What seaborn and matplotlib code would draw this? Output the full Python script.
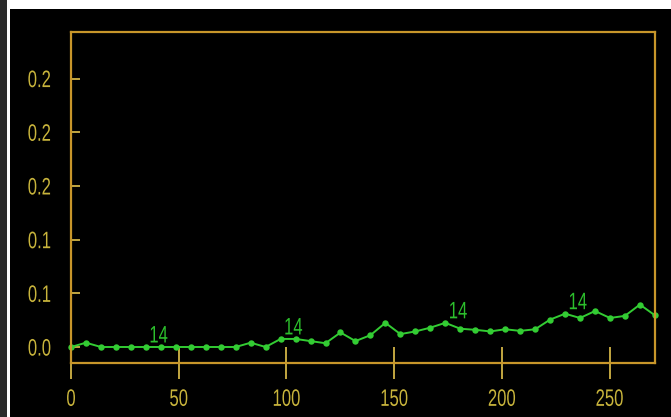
import matplotlib
matplotlib.use("Agg")
import matplotlib.pyplot as plt
from matplotlib.patches import Rectangle
from matplotlib.patheffects import AbstractPathEffect
from matplotlib.transforms import Affine2D
import seaborn as sns
import pandas as pd

# Sampled series
x_vals = [0.0, 6.95, 13.9, 20.85, 27.8, 34.75, 41.7, 48.65, 55.6, 62.55,
          69.5, 76.45, 83.4, 90.35, 97.3, 104.25, 111.2, 118.15, 125.1, 132.05,
          139.0, 145.95, 152.9, 159.85, 166.8, 173.75, 180.7, 187.65, 194.6, 201.55,
          208.5, 215.45, 222.4, 229.35, 236.3, 243.25, 250.2, 257.15, 264.1, 271.05]
y_vals = [0.000, 0.004, 0.000, 0.000, 0.000, 0.000, 0.000, 0.000, 0.000, 0.000,
          0.000, 0.000, 0.004, 0.000, 0.0075, 0.0075, 0.0055, 0.0035, 0.0135, 0.0055,
          0.011, 0.0225, 0.012, 0.0145, 0.018, 0.0225, 0.017, 0.016, 0.0145, 0.0165,
          0.015, 0.0165, 0.0255, 0.031, 0.027, 0.0335, 0.027, 0.029, 0.0395, 0.0295]

# Point annotations
label_points = [5, 14, 25, 33]
label_texts = ["14", "14", "14", "14"]

# Axis ticks
x_ticks = [0, 50, 100, 150, 200, 250]
x_tick_labels = ["0", "50", "100", "150", "200", "250"]
y_ticks = [0.0, 0.05, 0.10, 0.15, 0.20, 0.25]
y_tick_labels = ["0.0", "0.1", "0.1", "0.2", "0.2", "0.2"]

sns.set_style("dark")
plt.rcParams["font.family"] = ["Liberation Sans", "DejaVu Sans"]

SPINE = "#c8962a"
TICK = "#d2b446"
LABEL = "#c8b43c"
LINE = "#33cc33"
TEXT_GREEN = "#2cbf2c"
FONT_SIZE = 12


class TallGlyphs(AbstractPathEffect):
    """Draw text with glyphs stretched vertically about the digit mid-height."""

    def __init__(self, sy=1.43, mid=36.0):
        super().__init__()
        self.sy = sy
        self.mid = mid

    def draw_path(self, renderer, gc, tpath, affine, rgbFace=None):
        stretch = Affine2D().translate(0, -self.mid).scale(1, self.sy).translate(0, self.mid)
        renderer.draw_path(gc, tpath, stretch + affine, rgbFace)


W, H = 671, 417
fig = plt.figure(figsize=(W / 100, H / 100), dpi=100, facecolor="white")
fig.patches.append(Rectangle((0, 0), 7 / W, 1, transform=fig.transFigure,
                             facecolor="#2b2b2b", edgecolor="none", zorder=-10))
fig.patches.append(Rectangle((10 / W, 0), 1 - 10 / W, 1 - 9 / H, transform=fig.transFigure,
                             facecolor="black", edgecolor="none", zorder=-10))

ax = fig.add_axes([71 / W, 1 - 363 / H, (655 - 71) / W, (363 - 32) / H])
ax.set_facecolor("black")

df = pd.DataFrame({"x": x_vals, "y": y_vals})
sns.lineplot(data=df, x="x", y="y", ax=ax, color=LINE, linewidth=1.4,
             marker="o", markersize=4.6, markeredgewidth=0, clip_on=False)

for idx, txt in zip(label_points, label_texts):
    ax.annotate(txt, (x_vals[idx], y_vals[idx]), xytext=(2.5, 5.1),
                textcoords="offset points", ha="left", va="baseline",
                color=TEXT_GREEN, fontsize=FONT_SIZE,
                path_effects=[TallGlyphs()])

ax.set_xlim(0, 271.1)
ax.set_ylim(-0.0149, 0.2933)
ax.set_xticks(x_ticks)
ax.set_xticklabels(x_tick_labels)
ax.set_yticks(y_ticks)
ax.set_yticklabels(y_tick_labels)
ax.set_xlabel("")
ax.set_ylabel("")
ax.grid(False)

for sp in ax.spines.values():
    sp.set_visible(True)
    sp.set_color(SPINE)
    sp.set_linewidth(1.6)

ax.tick_params(axis="x", direction="inout", length=22.7, width=1.3, color=TICK,
               labelcolor=LABEL, labelsize=FONT_SIZE, pad=9, bottom=True)
ax.tick_params(axis="y", direction="in", length=6.5, width=1.3, color=TICK,
               labelcolor=LABEL, labelsize=FONT_SIZE, pad=14.5, left=True)

for lbl in ax.get_xticklabels() + ax.get_yticklabels():
    lbl.set_path_effects([TallGlyphs()])

fig.savefig("out.png", dpi=100, facecolor=fig.get_facecolor())
